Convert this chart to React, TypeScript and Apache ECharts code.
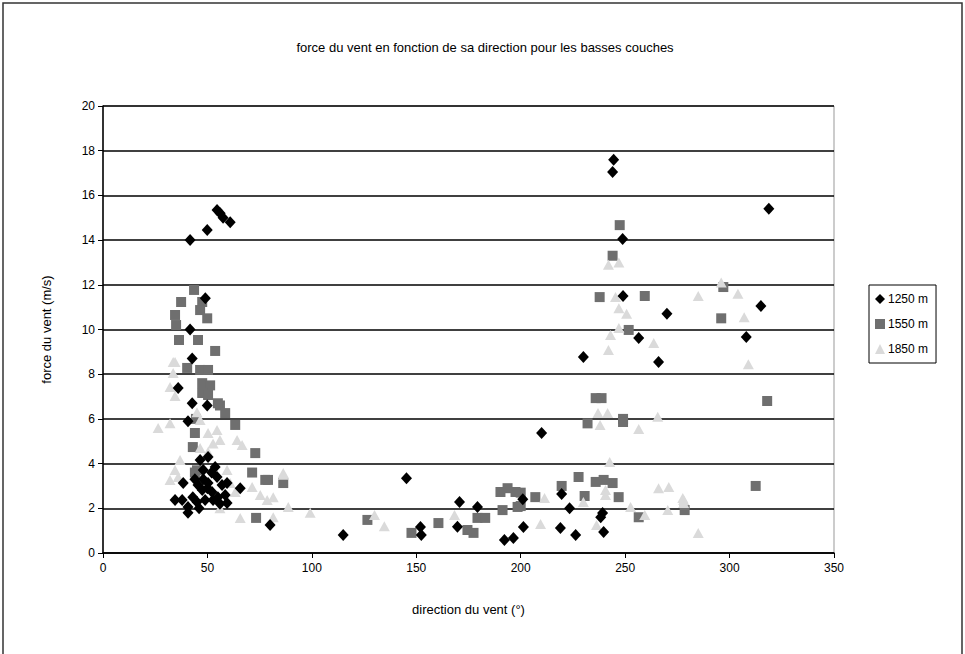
import React, { useEffect, useRef } from "react";
import * as echarts from "echarts";

const title = "force du vent en fonction de sa direction pour les basses couches";
const xName = "direction du vent (°)";
const yName = "force du vent (m/s)";
const seriesNames = ["1250 m", "1550 m", "1850 m"];

const s1250: number[][] = [
  [41.7, 14.0], [49.9, 14.45], [54.6, 15.35], [56.1, 15.2], [57.5, 15.0], [60.9, 14.8],
  [244.5, 17.6], [244, 17.05], [248.8, 14.05], [318.8, 15.4], [315, 11.05], [308, 9.66],
  [249, 11.5], [270, 10.7], [256.5, 9.62], [230, 8.77], [266, 8.55], [210, 5.37],
  [219.6, 2.64], [223.4, 2.0], [239.2, 1.79], [238.3, 1.6], [201.3, 1.16], [219, 1.12],
  [226.3, 0.8], [239.7, 0.94], [201, 2.4],
  [115, 0.8], [145.3, 3.35], [152, 1.16], [152.4, 0.8], [170.7, 2.28], [169.7, 1.17],
  [179.3, 2.06], [192.2, 0.58], [196.5, 0.67], [80, 1.25],
  [41.7, 10.0], [42.7, 8.7], [36, 7.38], [42.7, 6.7], [49.9, 6.6], [40.7, 5.9],
  [46.5, 4.16], [50.3, 4.3], [53.7, 3.85], [48, 3.71], [38.4, 3.13], [45.5, 3.04],
  [50.3, 3.13], [59.4, 3.13], [65.7, 2.9], [34.5, 2.37], [37.9, 2.37], [40.7, 2.06],
  [40.7, 1.8], [45, 2.28], [48.9, 2.37], [52.7, 2.37], [58.5, 2.6], [59.4, 2.24],
  [47.5, 2.82], [52.2, 2.73], [54.6, 3.4], [57, 3.04], [49, 11.4],
  [43, 2.5], [46, 2.0], [50, 2.9], [55, 2.5], [44, 3.3], [52, 3.6], [56, 2.2], [48, 3.3],
];

const s1550: number[][] = [
  [247.4, 14.67], [244, 13.3], [237.8, 11.45], [259.4, 11.5], [296, 10.5], [297, 11.9],
  [251.7, 9.98], [318, 6.8], [312.5, 3.0], [278.5, 1.92],
  [235.9, 6.93], [238.7, 6.93], [249, 6.0], [232, 5.8], [249, 5.86],
  [227.7, 3.4], [235.9, 3.18], [239.7, 3.27], [244, 3.13], [219.6, 3.0], [230.6, 2.55],
  [246.9, 2.5], [207, 2.5], [256.5, 1.6], [200, 2.7], [200, 2.1],
  [86.3, 3.13], [126.6, 1.48], [147.7, 0.9], [160.6, 1.34], [174.5, 1.03], [177.4, 0.9],
  [179.3, 1.57], [183, 1.57], [190.3, 2.73], [193.7, 2.9], [197.5, 2.73], [191.3, 1.92],
  [198.5, 2.06],
  [43.6, 11.77], [37.4, 11.23], [47.5, 11.23], [34.5, 10.65], [35, 10.2], [46.5, 10.87],
  [49.9, 10.5], [36.4, 9.53], [45.5, 9.53], [53.7, 9.04], [40.3, 8.28], [46.5, 8.19],
  [50.3, 8.19], [47.5, 7.6], [51.3, 7.5], [47.5, 7.16], [50.3, 7.07], [56, 6.6],
  [55, 6.7], [58.5, 6.26], [63.3, 5.73], [44.5, 6.0], [44, 5.37], [43, 4.74],
  [72.9, 4.47], [71.4, 3.6], [79, 3.27], [77.7, 3.27], [44, 3.6], [45, 3.7], [73.3, 1.57],
];

const s1850: number[][] = [
  [242, 12.9], [247, 13.0], [296, 12.1], [285, 11.5], [304, 11.6], [307, 10.55],
  [309, 8.45], [278, 2.37], [285, 0.9], [245.4, 11.45], [247, 10.95], [250.7, 10.7],
  [247, 10.07], [243, 9.75], [263.7, 9.4], [242, 9.08], [237, 6.26], [241.6, 6.26],
  [265.6, 6.1], [238, 5.73], [256.5, 5.55], [242.6, 4.07], [240.6, 2.82], [240.6, 2.6],
  [211.4, 2.46], [230, 2.28], [266, 2.9], [270.9, 2.95], [277.6, 2.46], [278, 2.24],
  [270.4, 1.92], [252.6, 2.06], [259.4, 1.7], [209.5, 1.3], [236.3, 1.25], [168.3, 1.7],
  [86.3, 3.5], [88.7, 2.06], [99.2, 1.8], [130, 1.7], [134.7, 1.2],
  [34.5, 8.55], [33.6, 8.55], [33.6, 8.05], [32.1, 7.43], [34.5, 7.02], [26.4, 5.59],
  [32.1, 5.8], [46.5, 5.95], [45, 6.3], [50.3, 5.37], [54.6, 5.5], [56, 5.06], [52.7, 4.9],
  [64.2, 5.06], [66.6, 4.83], [46.5, 4.7], [50.3, 4.52], [36.9, 4.16], [34.5, 3.71],
  [32.1, 3.27], [36, 3.4], [59.4, 3.71], [60.9, 3.13], [54.6, 2.5], [63.3, 2.73],
  [71.4, 2.95], [75.3, 2.6], [78.6, 2.37], [81.5, 2.5], [86.3, 3.58], [65.7, 1.57],
  [81.5, 1.6], [56, 2.0],
];

const FONT = "Liberation Sans, Arial, sans-serif";

export default function App() {
  const ref = useRef<HTMLDivElement>(null);
  useEffect(() => {
    if (!ref.current) return;
    const chart = echarts.init(ref.current, undefined, { renderer: "svg" });
    chart.setOption({
      animation: false,
      backgroundColor: "#fff",
      textStyle: { fontFamily: FONT },
      title: {
        text: title,
        left: 480,
        textAlign: "center",
        top: 36,
        textStyle: { fontSize: 13, fontWeight: "normal", color: "#000", fontFamily: FONT },
      },
      graphic: [
        {
          type: "rect",
          shape: { x: 3, y: 3, width: 959, height: 670 },
          style: { fill: "none", stroke: "#333", lineWidth: 1.5 },
          silent: true,
        },
      ],
      legend: {
        orient: "vertical",
        left: 869,
        top: 285,
        width: 83,
        borderColor: "#000",
        borderWidth: 1,
        padding: [8, 8, 8, 6],
        itemGap: 13,
        itemWidth: 10,
        itemHeight: 10,
        textStyle: { fontSize: 12, color: "#000", fontFamily: FONT, padding: [0, 0, 0, -2] },
        data: seriesNames,
      },
      grid: { left: 103, top: 106, width: 731, height: 447, show: true, borderColor: "#999", borderWidth: 1 },
      xAxis: {
        type: "value",
        min: 0,
        max: 350,
        interval: 50,
        name: xName,
        nameLocation: "middle",
        nameGap: 50,
        nameTextStyle: { fontSize: 13, color: "#000", fontFamily: FONT },
        axisLine: { show: true, onZero: false, lineStyle: { color: "#000", width: 1.5 } },
        axisTick: { show: true, length: 5, inside: false, lineStyle: { color: "#000" } },
        axisLabel: { fontSize: 12, color: "#000", margin: 9, fontFamily: FONT },
        splitLine: { show: false },
      },
      yAxis: {
        type: "value",
        min: 0,
        max: 20,
        interval: 2,
        name: yName,
        nameLocation: "middle",
        nameRotate: 90,
        nameGap: 50,
        nameTextStyle: { fontSize: 13, color: "#000", fontFamily: FONT },
        axisLine: { show: true, onZero: false, lineStyle: { color: "#000", width: 1.5 } },
        axisTick: { show: true, length: 5, inside: false, lineStyle: { color: "#000" } },
        axisLabel: { fontSize: 12, color: "#000", margin: 8, fontFamily: FONT },
        splitLine: { show: true, lineStyle: { color: "#000", width: 1.5 } },
      },
      series: [
        {
          name: seriesNames[0],
          type: "scatter",
          symbol: "diamond",
          symbolSize: [11, 12],
          itemStyle: { color: "#000", opacity: 1 },
          z: 3,
          data: s1250,
        },
        {
          name: seriesNames[1],
          type: "scatter",
          symbol: "rect",
          symbolSize: 10,
          itemStyle: { color: "#6f6f6f", opacity: 1 },
          z: 2,
          data: s1550,
        },
        {
          name: seriesNames[2],
          type: "scatter",
          symbol: "triangle",
          symbolSize: [11, 10],
          itemStyle: { color: "#dadada", opacity: 1 },
          z: 2,
          data: s1850,
        },
      ],
    });
    return () => chart.dispose();
  }, []);
  return (
    <div
      ref={ref}
      style={{ position: "fixed", left: 0, top: 0, width: 965, height: 654, background: "#fff" }}
    />
  );
}
